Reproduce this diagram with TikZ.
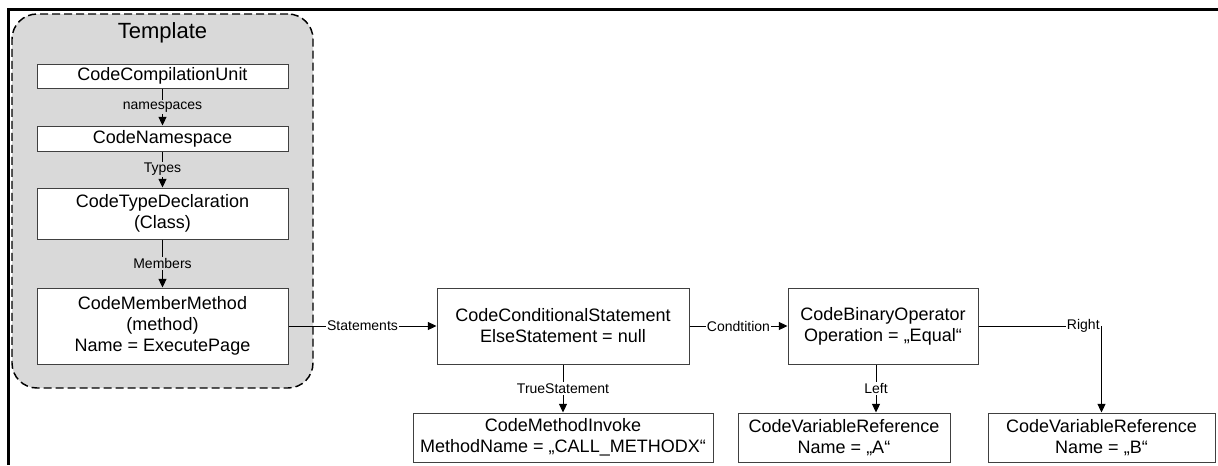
\documentclass[tikz,border=0pt]{standalone}
\usepackage{fontspec}
\setmainfont{Liberation Sans}
\usetikzlibrary{arrows.meta}
\definecolor{tmplgray}{HTML}{D9D9D9}
\definecolor{boxline}{HTML}{404040}

\begin{document}
\begin{tikzpicture}[x=0.75pt,y=-0.75pt,
    >={Triangle[length=6.5pt,width=6pt]},
    box/.style={draw=boxline,line width=0.75pt,fill=white,align=center,inner sep=0pt,
      font=\fontsize{13.5}{15.8}\selectfont},
    lbl/.style={fill=white,inner sep=1pt,font=\fontsize{10.5}{12}\selectfont},
    glbl/.style={lbl,fill=tmplgray},
    rel/.style={->,line width=0.75pt}]
    \useasboundingbox (0,0) rectangle (1218,465);
    \draw[line width=2.25pt] (1218,9) -- (8,9) -- (8,465);

    % template area
    \node[draw,dash pattern=on 6pt off 3pt,line width=1.1pt,fill=tmplgray,
      rounded corners=18.75pt,minimum width=225.75pt,minimum height=280.5pt] (tmpl) at (162.5,201) {};
    \node[font=\fontsize{16.5}{19}\selectfont] (title) at (162.5,33) {Template};

    \node[box,minimum width=188.25pt,minimum height=18pt] (unit) at (162.5,76) {CodeCompilationUnit};
    \node[box,minimum width=188.25pt,minimum height=18.75pt] (nspace) at (162.5,138.5) {CodeNamespace};
    \node[box,minimum width=188.25pt,minimum height=38.25pt] (tdecl) at (162.5,213.5) {CodeTypeDeclaration\\(Class)};
    \node[box,minimum width=188.25pt,minimum height=57pt] (method) at (162.5,326) {CodeMemberMethod\\(method)\\Name = ExecutePage};

    % statement tree
    \node[box,minimum width=189pt,minimum height=57pt] (cond) at (563,326) {CodeConditionalStatement\\ElseStatement = null};
    \node[box,minimum width=142.5pt,minimum height=57pt] (binop) at (883,326) {CodeBinaryOperator\\Operation = „Equal“};
    \node[box,minimum width=225pt,minimum height=36.75pt] (invoke) at (563,437.5) {CodeMethodInvoke\\MethodName = „CALL\_METHODX“};
    \node[box,minimum width=159pt,minimum height=36.75pt] (varA) at (844,437.5) {CodeVariableReference\\Name = „A“};
    \node[box,minimum width=170.25pt,minimum height=36.75pt] (varB) at (1101.5,437.5) {CodeVariableReference\\Name = „B“};
    \coordinate (left) at (876,0);

    \draw[rel] (unit) -- node[glbl] {namespaces} (nspace);
    \draw[rel] (nspace) -- node[glbl] {Types} (tdecl);
    \draw[rel] (tdecl) -- node[glbl] {Members} (method);
    \draw[rel] (method) -- node[lbl] {Statements} (cond);
    \draw[rel] (cond) -- node[lbl] {Condtition} (binop);
    \draw[rel] (cond) -- node[lbl] {TrueStatement} (invoke);
    \draw[rel] (binop.south -| left) -- node[lbl] {Left} (varA.north -| left);
    \draw[rel] (binop.east) -| node[lbl,pos=0.5,anchor=east] {Right} (varB.north);
\end{tikzpicture}
\end{document}
